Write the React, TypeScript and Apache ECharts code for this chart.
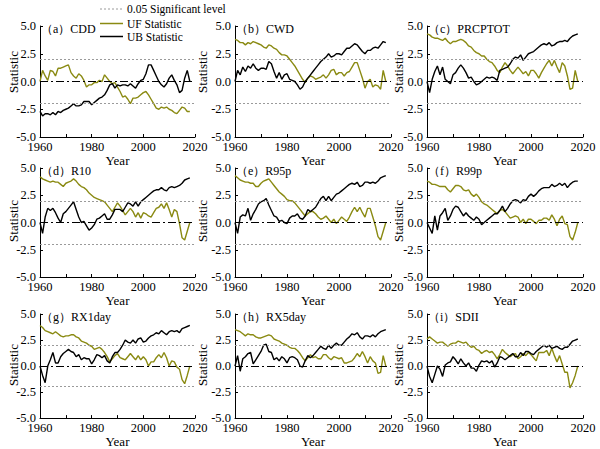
import React, { useEffect, useRef } from "react";
import * as echarts from "echarts";

const years: number[] = [];
for (let y = 1960; y <= 2018; y++) years.push(y);

const panelTitles = ["（a）CDD", "（b）CWD", "（c）PRCPTOT", "（d）R10", "（e）R95p", "（f）R99p", "（g）RX1day", "（h）RX5day", "（i）SDII"];
const yTickLabels = ["-5.0", "-2.5", "0.0", "2.5", "5.0"];
const xTickLabels = ["1960", "1980", "2000", "2020"];
const sigLevel = 1.96;

const cddUF = [0.0,1.0,0.5,0.1,1.0,0.9,0.5,1.2,1.2,1.3, 1.4,1.5,0.8,0.5,0.3,0.7,0.5,0.1,-0.5,-0.3,
  -0.3,-0.1,-0.1,0.1,0.0,0.6,0.3,0.0,-0.2,-0.1, -0.5,-0.9,-1.4,-1.3,-1.6,-2.0,-1.5,-1.5,-1.4,-1.2,
  -1.0,-0.9,-1.2,-1.6,-2.0,-2.4,-2.5,-2.3,-2.4,-2.3, -2.5,-2.6,-2.8,-2.9,-2.6,-2.3,-2.4,-2.7,-2.7];
const cddUB = [-2.7,-3.1,-2.9,-2.9,-3.0,-2.8,-3.0,-2.7,-2.8,-2.6, -2.5,-2.4,-2.2,-2.0,-2.2,-2.2,-2.1,-1.8,-1.8,-1.8,
  -2.1,-1.9,-1.7,-1.5,-1.4,-1.2,-0.8,-0.3,-0.2,-0.6, -0.3,-0.4,-0.3,-0.3,-0.4,-0.2,-0.4,-0.6,-0.2,0.1,
  0.2,0.7,1.5,1.5,1.0,0.5,0.0,-0.3,-0.5,-0.2, 0.3,0.6,0.1,-0.3,-1.0,-0.8,0.3,1.0,0.0];

const cwdUF = [3.8,3.7,3.5,3.5,3.3,3.5,3.4,3.6,3.5,3.4, 3.3,3.1,3.0,3.3,3.2,3.0,2.9,2.6,2.4,2.4,
  2.3,2.0,1.7,1.4,1.0,0.6,0.2,-0.1,0.3,0.5, 0.4,0.2,0.3,0.4,0.6,0.3,0.6,1.0,1.1,0.6,
  0.8,0.8,0.5,0.8,0.9,1.3,1.7,1.7,1.0,0.3, -0.6,0.0,0.2,-0.5,-0.3,-0.4,-0.7,1.0,0.0];
const cwdUB = [0.0,1.0,0.6,1.3,0.9,1.4,1.2,1.6,1.2,1.0, 1.2,1.2,1.1,1.8,1.6,0.9,0.3,0.8,0.2,0.6,
  0.7,0.2,0.1,0.0,-0.3,-0.7,-0.5,0.0,0.3,0.6, 0.9,1.2,1.5,1.8,2.0,2.2,2.5,2.2,2.3,2.5,
  2.5,2.4,2.7,3.0,3.0,3.2,3.4,3.3,3.0,2.7, 2.5,2.8,2.8,3.0,3.1,3.0,3.3,3.6,3.5];

const prcptotUF = [4.3,4.2,4.0,3.9,3.9,3.8,3.7,3.9,3.6,3.4, 3.6,3.6,3.7,3.8,3.7,3.5,3.2,3.1,2.8,2.6,
  2.5,2.3,2.3,2.0,1.8,1.7,1.4,1.0,0.8,1.3, 1.7,1.4,1.0,0.7,1.0,1.3,1.0,0.7,0.9,0.5,
  1.0,1.0,0.7,0.3,0.8,1.2,1.6,1.9,1.4,1.9, 1.3,0.8,1.7,1.4,0.5,-0.7,-0.6,1.0,0.0];
const prcptotUB = [0.0,-1.0,0.2,0.9,1.4,0.6,1.3,0.2,0.0,-0.2, 0.6,0.8,1.2,1.5,1.2,0.8,0.3,0.4,0.0,-0.3,
  -0.2,0.0,0.2,0.4,0.3,0.4,0.3,0.1,1.0,1.1, 1.2,1.3,1.6,2.0,2.2,2.1,2.4,1.9,2.2,2.5,
  2.6,2.7,2.9,3.1,3.3,3.4,3.3,3.5,3.2,3.3, 3.5,3.6,3.6,3.7,3.6,3.9,4.1,4.2,4.3];

const r10UF = [4.2,4.0,3.9,3.8,3.7,3.8,3.7,3.7,3.5,3.3, 3.6,3.7,3.8,4.0,3.8,3.5,3.3,3.2,3.0,2.7,
  2.5,2.3,2.2,2.1,2.0,1.9,1.6,1.3,1.0,1.4, 1.8,1.5,1.1,0.7,1.0,1.3,1.0,0.5,0.9,0.4,
  0.9,0.8,0.6,0.5,0.9,1.3,1.4,1.7,1.3,1.8, 1.2,0.5,1.2,1.0,-0.1,-1.4,-1.6,-0.8,0.0];
const r10UB = [0.0,-1.0,0.5,1.3,1.1,1.3,0.9,0.4,0.0,0.8, 1.0,1.3,1.6,1.9,1.2,0.5,0.0,0.1,-0.3,-0.7,
  -0.5,-0.2,0.3,0.4,0.6,0.8,0.3,0.3,0.7,1.2, 1.2,1.2,1.0,1.4,1.8,1.7,1.5,1.9,1.5,1.9,
  2.1,2.3,2.5,2.7,2.9,3.0,3.0,3.2,3.0,2.9, 3.2,3.3,3.2,3.3,3.4,3.6,3.9,4.0,4.1];

const r95pUF = [4.3,4.1,3.9,3.8,3.7,3.7,3.6,3.6,3.3,3.3, 3.6,3.8,3.9,4.0,3.7,3.4,3.1,2.8,2.6,2.4,
  2.1,2.0,2.0,1.8,1.5,1.2,0.9,0.6,0.8,1.0, 1.0,0.8,0.5,0.3,0.4,0.6,0.3,0.0,0.3,-0.1,
  0.2,0.5,0.3,0.1,0.5,1.0,1.4,1.0,1.4,0.9, 0.5,1.3,1.3,0.5,-0.3,-1.3,-1.6,-0.8,0.0];
const r95pUB = [0.0,-1.0,0.5,0.7,0.6,1.3,0.2,0.8,1.2,1.7, 1.9,2.0,2.2,1.6,1.1,0.6,0.5,0.1,0.2,0.0,
  -0.1,0.4,0.6,0.6,0.8,0.4,0.3,0.6,1.2,1.0, 1.2,1.4,1.8,2.2,2.4,2.0,2.4,2.0,2.3,2.6,
  2.7,2.9,3.1,3.3,3.5,3.6,3.5,3.7,3.3,3.4, 3.7,3.7,3.6,3.7,3.6,3.8,4.1,4.2,4.3];

const r99pUF = [3.8,3.7,3.5,3.5,3.4,3.3,3.3,3.3,3.0,2.8, 3.1,3.4,3.4,3.3,3.0,2.9,3.0,2.6,2.4,2.6,
  2.3,1.9,1.7,1.6,1.4,1.2,1.0,0.8,1.1,1.2, 1.0,0.7,0.4,0.5,0.6,0.5,0.0,0.3,-0.1,0.3,
  0.3,0.1,-0.1,0.2,0.2,0.4,0.4,0.2,0.7,0.3, -0.3,0.3,0.6,-0.1,-0.2,-1.3,-1.6,-0.9,0.0];
const r99pUB = [0.0,-0.5,-1.0,0.6,-0.7,0.6,0.9,1.3,0.2,0.6, 1.2,1.5,1.4,1.0,0.6,0.9,0.6,0.4,0.2,0.5,
  0.3,-0.2,0.0,0.2,0.4,0.6,0.8,0.8,1.1,1.5, 1.0,1.3,1.7,2.0,2.1,2.0,1.8,2.1,2.0,2.4,
  2.6,2.4,2.6,2.9,3.1,3.2,3.2,3.2,3.5,3.3, 3.4,3.6,3.4,3.6,3.2,3.5,3.7,3.8,3.8];

const rx1dayUF = [3.9,3.7,3.4,3.3,3.2,3.1,3.3,3.1,2.9,2.8, 2.9,2.9,3.0,3.0,2.8,2.7,2.4,2.3,2.2,2.0,
  1.9,1.6,1.7,1.8,1.6,1.3,0.9,0.4,0.7,1.0, 1.2,0.8,0.7,0.6,0.9,1.2,0.9,0.6,1.0,0.6,
  0.9,0.6,0.0,0.4,0.4,0.8,1.1,0.8,1.3,0.8, 0.0,0.5,0.4,-0.1,-0.3,-1.3,-1.7,-0.9,0.0];
const rx1dayUB = [0.0,-0.9,-1.6,0.0,0.6,1.3,0.3,0.3,0.9,1.2, 1.4,1.6,1.4,1.3,0.9,1.1,0.6,0.8,0.7,0.7,
  0.2,0.6,1.1,1.0,0.8,1.0,0.5,0.3,0.9,1.3, 1.3,1.6,2.0,2.5,2.3,2.2,2.5,2.2,2.6,2.7,
  2.3,2.4,2.7,2.9,3.0,3.2,3.1,3.4,3.2,3.0, 3.3,3.4,3.3,3.4,3.2,3.6,3.7,3.8,3.9];

const rx5dayUF = [3.5,3.4,3.3,3.1,2.9,3.1,3.0,3.0,2.8,2.7, 2.7,2.8,2.9,3.0,2.9,2.6,2.5,2.4,2.2,2.1,
  2.0,1.8,1.7,1.7,1.5,1.2,0.8,0.5,0.8,1.1, 0.8,0.9,0.7,0.7,1.1,1.1,0.8,0.6,0.9,0.8,
  0.7,0.8,0.3,0.3,0.4,0.5,0.8,1.2,0.9,1.4, 0.9,0.3,0.9,0.5,0.3,-0.7,-0.6,1.0,0.0];
const rx5dayUB = [0.0,1.0,-0.5,0.7,0.9,1.2,1.3,0.2,0.6,1.0, 1.4,2.0,2.1,1.4,1.3,0.6,0.8,0.5,0.9,0.7,
  0.3,0.8,0.9,0.8,0.6,0.0,-0.1,0.5,1.0,0.8, 1.0,1.3,1.6,1.9,1.7,1.6,2.0,1.7,2.0,2.2,
  2.0,2.0,2.3,2.6,2.8,3.1,3.0,3.2,2.8,2.6, 2.9,2.9,2.8,3.0,2.8,3.1,3.3,3.4,3.5];

const sdiiUF = [2.6,2.8,2.6,2.4,2.2,2.3,2.3,2.1,1.9,2.1, 2.2,2.2,2.4,2.3,2.2,2.3,2.0,1.8,1.9,1.6,
  1.5,1.2,1.4,1.5,1.3,1.4,1.1,0.7,1.1,1.6, 1.3,1.1,0.9,1.1,1.2,0.7,0.9,1.2,1.0,1.3,
  1.1,0.8,0.5,1.3,1.3,1.3,1.5,1.0,1.7,1.0, 0.4,1.0,0.2,-0.6,-0.6,-2.1,-1.6,-0.9,0.0];
const sdiiUB = [0.0,-1.0,-1.6,-0.8,0.0,-0.3,-1.0,0.1,0.3,0.4, 0.9,0.6,0.2,0.7,0.3,0.0,0.3,-0.2,-0.2,-0.5,
  0.1,0.5,0.4,0.5,0.3,0.5,-0.1,0.3,0.9,0.8, 0.6,0.8,1.0,1.2,0.9,0.9,1.3,1.0,1.4,1.4,
  1.2,1.1,1.4,1.6,1.8,2.0,1.8,2.0,1.7,1.8, 1.9,1.7,1.6,1.8,1.8,2.1,2.4,2.5,2.6];

const ufList = [cddUF, cwdUF, prcptotUF, r10UF, r95pUF, r99pUF, rx1dayUF, rx5dayUF, sdiiUF];
const ubList = [cddUB, cwdUB, prcptotUB, r10UB, r95pUB, r99pUB, rx1dayUB, rx5dayUB, sdiiUB];

const FONT = "'Liberation Serif', 'Times New Roman', serif";
const OLIVE = "#8a8a12";
const colLeft = [40, 235, 427];
const colWidth = [155, 156, 156];
const colNameOffset = [27, 33, 29];
const rowTop = [26, 168, 314];
const rowHeight = [111, 109, 109];
const rowNameCenter = [72, 221, 365];

export default function App() {
  const ref = useRef<HTMLDivElement>(null);
  useEffect(() => {
    if (!ref.current) return;
    document.body.style.margin = "0";
    const chart = echarts.init(ref.current, null, { renderer: "svg" });
    const grids: any[] = [];
    const xAxes: any[] = [];
    const yAxes: any[] = [];
    const series: any[] = [];
    const titles: any[] = [];
    const graphic: any[] = [];
    for (let i = 0; i < 9; i++) {
      const r = Math.floor(i / 3), c = i % 3;
      grids.push({ left: colLeft[c], top: rowTop[r], width: colWidth[c], height: rowHeight[r] });
      xAxes.push({
        gridIndex: i, type: "value", min: 1960, max: 2020, interval: 20,
        name: "Year", nameLocation: "middle", nameGap: 10,
        nameTextStyle: { fontFamily: FONT, fontSize: 13, color: "#000" },
        axisLine: { show: true, onZero: false, lineStyle: { color: "#000", width: 1 } },
        axisTick: { show: true, inside: true, length: 3, lineStyle: { color: "#000" } },
        minorTick: { show: true, splitNumber: 2, length: 3, lineStyle: { color: "#000" } },
        axisLabel: { fontFamily: FONT, fontSize: 12.5, color: "#000", margin: 3,
          formatter: (v: number) => xTickLabels.find((t) => Number(t) === v) ?? "" },
        splitLine: { show: false },
      });
      yAxes.push({
        gridIndex: i, type: "value", min: -5, max: 5, interval: 2.5,
        axisLine: { show: true, lineStyle: { color: "#000", width: 1 } },
        axisTick: { show: true, inside: true, length: 3, lineStyle: { color: "#000" } },
        axisLabel: { fontFamily: FONT, fontSize: 12.5, color: "#000", margin: 4,
          formatter: (v: number) => yTickLabels.find((t) => Number(t) === v) ?? "" },
        splitLine: { show: false },
      });
      const pts = (arr: number[]) => years.map((y, k) => [y, arr[k]]);
      series.push({
        type: "line", name: "UF Statistic", xAxisIndex: i, yAxisIndex: i,
        data: pts(ufList[i]), showSymbol: false, symbol: "none",
        lineStyle: { color: OLIVE, width: 1.4 }, itemStyle: { color: OLIVE }, z: 3,
        markLine: {
          silent: true, symbol: "none", label: { show: false },
          data: [
            { yAxis: sigLevel, lineStyle: { color: "#9a9a9a", type: [2, 2], width: 1 } },
            { yAxis: -sigLevel, lineStyle: { color: "#9a9a9a", type: [2, 2], width: 1 } },
            { yAxis: 0, lineStyle: { color: "#000", type: [8, 3, 2, 3], width: 1.1 } },
          ],
        },
      });
      series.push({
        type: "line", name: "UB Statistic", xAxisIndex: i, yAxisIndex: i,
        data: pts(ubList[i]), showSymbol: false, symbol: "none",
        lineStyle: { color: "#000", width: 1.4 }, itemStyle: { color: "#000" }, z: 4,
      });
      titles.push({
        text: panelTitles[i], left: colLeft[c] + 1, top: rowTop[r] - 3, padding: 0,
        textStyle: { fontFamily: FONT, fontSize: 12, fontWeight: "normal", color: "#000" },
      });
      graphic.push({
        type: "text", x: colLeft[c] - colNameOffset[c], y: rowNameCenter[r], rotation: Math.PI / 2,
        style: { text: "Statistic", fill: "#000", font: `13px ${FONT}`, align: "center", verticalAlign: "middle" },
      });
    }
    const legendItems = [
      { label: "0.05 Significant level", y: 9, color: "#9a9a9a", dash: [2, 2], w: 1 },
      { label: "UF Statistic", y: 23.5, color: OLIVE, dash: null, w: 1.5 },
      { label: "UB Statistic", y: 36.5, color: "#000", dash: null, w: 1.5 },
    ];
    legendItems.forEach((it) => {
      graphic.push({ type: "line", shape: { x1: 100, y1: it.y, x2: 123, y2: it.y },
        style: { stroke: it.color, lineWidth: it.w, lineDash: it.dash || undefined } });
      graphic.push({ type: "text", x: 127, y: it.y,
        style: { text: it.label, fill: "#000", font: `11.5px ${FONT}`, align: "left", verticalAlign: "middle" } });
    });
    chart.setOption({
      animation: false,
      backgroundColor: "#fff",
      textStyle: { fontFamily: FONT },
      title: titles,
      grid: grids,
      xAxis: xAxes,
      yAxis: yAxes,
      series,
      graphic,
    });
    return () => chart.dispose();
  }, []);
  return <div ref={ref} style={{ position: "fixed", left: 0, top: 0, width: 600, height: 449 }} />;
}
